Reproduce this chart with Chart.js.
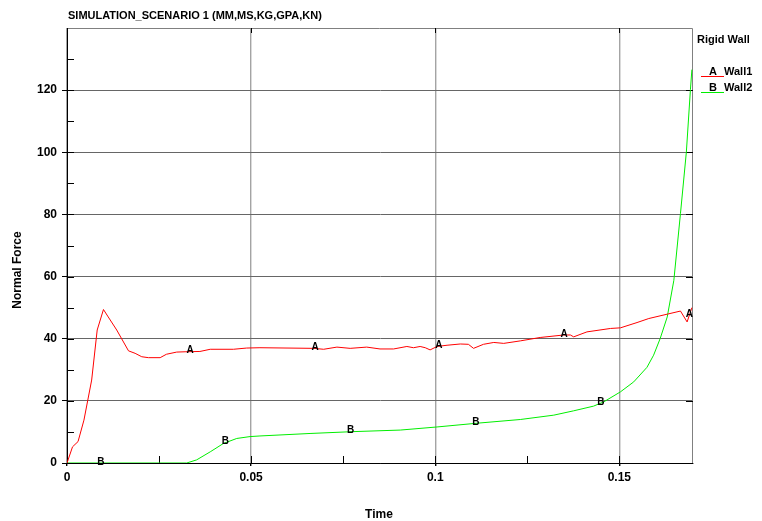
<!DOCTYPE html>
<html>
<head>
<meta charset="utf-8">
<script src="https://cdn.jsdelivr.net/npm/chart.js@4.4.1/dist/chart.umd.min.js"></script>
<style>
  html, body { margin: 0; padding: 0; background: #fff; }
  #wrap { width: 762px; height: 521px; }
</style>
</head>
<body>
<div id="wrap"><canvas id="chart" width="762" height="521"></canvas></div>
<script>
// rigid wall normal force vs time
var titleText = 'SIMULATION_SCENARIO 1 (MM,MS,KG,GPA,KN)';
var xTitle = 'Time';
var yTitle = 'Normal Force';
var legendTitle = 'Rigid Wall';
var seriesNames = ['Wall1', 'Wall2'];
var seriesMarks = ['A', 'B'];
var seriesColours = ['#ff0000', '#00ee00'];

var xTicks = [0, 0.05, 0.1, 0.15];
var xMinorTicks = [0.025, 0.075, 0.125];
var yTicks = [0, 20, 40, 60, 80, 100, 120];
var yMinorTicks = [10, 30, 50, 70, 90, 110, 130];

var wall1Time = [0, 0.0015, 0.003, 0.0046, 0.0067, 0.0082, 0.0099, 0.0112, 0.0135, 0.0167, 0.0185,
    0.0203, 0.0221, 0.0253, 0.027, 0.0298, 0.0323, 0.0361, 0.0389, 0.0452, 0.0488, 0.0524, 0.067,
    0.0697, 0.0733, 0.0769, 0.0814, 0.085, 0.0887, 0.0923, 0.0941, 0.0959, 0.0973, 0.0986, 0.1005,
    0.1032, 0.1068, 0.109, 0.1104, 0.1131, 0.1159, 0.1186, 0.1231, 0.1285, 0.1349, 0.1367, 0.1376,
    0.1412, 0.1476, 0.1503, 0.1548, 0.158, 0.163, 0.1666, 0.1684, 0.1697];
var wall1Force = [0, 5.2, 6.9, 13.8, 26.7, 42.8, 49.4, 47, 42.8, 36.1, 35.3,
    34.2, 33.9, 33.9, 35, 35.7, 35.8, 35.9, 36.6, 36.6, 37, 37.1, 36.9,
    36.6, 37.3, 36.9, 37.3, 36.7, 36.7, 37.5, 37.1, 37.5, 37.1, 36.4, 37.5,
    37.9, 38.3, 38.2, 36.9, 38.2, 38.8, 38.5, 39.3, 40.4, 41.2, 41.2, 40.6,
    42.2, 43.3, 43.5, 45.2, 46.5, 47.9, 48.9, 45.4, 50];

var wall2Time = [0, 0.0325, 0.0352, 0.0389, 0.0425, 0.0461, 0.0497, 0.0524, 0.066, 0.0778, 0.0905,
    0.1005, 0.1113, 0.1231, 0.1322, 0.1376, 0.143, 0.1458, 0.1503, 0.1539, 0.1575, 0.1593, 0.1611,
    0.163, 0.1648, 0.1666, 0.1682, 0.1693, 0.1697];
var wall2Force = [0, 0, 1, 3.6, 6.3, 7.9, 8.5, 8.7, 9.5, 10.1, 10.6,
    11.6, 12.8, 14, 15.4, 16.8, 18.3, 19.7, 22.9, 26.1, 30.8, 34.7, 40.1,
    47, 58.8, 80.3, 100.1, 120.2, 126.6];

// times where the curve letters are written on the lines
var wall1MarkTimes = [0.0334, 0.0674, 0.101, 0.135, 0.169];
var wall2MarkTimes = [0.0092, 0.043, 0.077, 0.111, 0.145];

function toPoints(ts, vs) {
    return ts.map(function (t, i) { return {x: t, y: vs[i]}; });
}

function valueAt(ts, vs, t) {
    for (var i = 1; i < ts.length; i++) {
        if (t <= ts[i]) {
            var f = (t - ts[i - 1]) / (ts[i] - ts[i - 1]);
            return vs[i - 1] + f * (vs[i] - vs[i - 1]);
        }
    }
    return vs[vs.length - 1];
}

var FONT = '"Liberation Sans", Arial, sans-serif';

var framePlugin = {
    id: 'frame',
    beforeDatasetsDraw: function (chart) {
        var a = chart.chartArea, ctx = chart.ctx;
        var xs = chart.scales.x, ys = chart.scales.y;
        ctx.save();
        ctx.strokeStyle = '#808080';
        ctx.lineWidth = 1;
        ctx.beginPath();
        ctx.moveTo(a.left, a.top + 0.5);
        ctx.lineTo(a.right - 0.5, a.top + 0.5);
        ctx.lineTo(a.right - 0.5, a.bottom);
        ctx.stroke();
        // inward tick marks
        ctx.strokeStyle = '#000';
        ctx.beginPath();
        xTicks.concat(xMinorTicks).forEach(function (v) {
            var px = Math.round(xs.getPixelForValue(v)) + 0.5;
            ctx.moveTo(px, a.bottom);
            ctx.lineTo(px, a.bottom - 7);
        });
        xTicks.forEach(function (v) {
            var px = Math.round(xs.getPixelForValue(v)) + 0.5;
            ctx.moveTo(px, a.top);
            ctx.lineTo(px, a.top + 5);
        });
        yTicks.concat(yMinorTicks).forEach(function (v) {
            var py = Math.round(ys.getPixelForValue(v)) + 0.5;
            ctx.moveTo(a.left, py);
            ctx.lineTo(a.left + 7, py);
        });
        yTicks.forEach(function (v) {
            var py = Math.round(ys.getPixelForValue(v)) + 0.5;
            ctx.moveTo(a.right, py);
            ctx.lineTo(a.right - 7, py);
        });
        ctx.stroke();
        ctx.restore();
    },
    afterDraw: function (chart) {
        var a = chart.chartArea, ctx = chart.ctx;
        var xs = chart.scales.x, ys = chart.scales.y;
        ctx.save();
        // title
        ctx.fillStyle = '#000';
        ctx.font = 'bold 11px ' + FONT;
        ctx.textAlign = 'left';
        ctx.textBaseline = 'middle';
        ctx.fillText(titleText, a.left + 1, 16);

        // axis titles
        ctx.font = 'bold 12px ' + FONT;
        ctx.textAlign = 'center';
        ctx.fillText(xTitle, 379, 515);
        ctx.save();
        ctx.translate(18, 270);
        ctx.rotate(-Math.PI / 2);
        ctx.fillText(yTitle, 0, 0);
        ctx.restore();

        // letters on the curves
        ctx.font = 'bold 10px ' + FONT;
        ctx.textAlign = 'center';
        var marks = [[wall1MarkTimes, wall1Time, wall1Force], [wall2MarkTimes, wall2Time, wall2Force]];
        marks.forEach(function (m, k) {
            m[0].forEach(function (t) {
                var v = valueAt(m[1], m[2], t);
                ctx.fillText(seriesMarks[k], xs.getPixelForValue(t), ys.getPixelForValue(v) - 1);
            });
        });

        // legend on the right
        var lx = a.right + 4;
        ctx.font = 'bold 11px ' + FONT;
        ctx.textAlign = 'left';
        ctx.fillText(legendTitle, lx, 40);
        seriesNames.forEach(function (name, k) {
            var y = 72 + k * 16;
            ctx.strokeStyle = seriesColours[k];
            ctx.lineWidth = 1;
            ctx.beginPath();
            ctx.moveTo(lx + 4, y + 4.5);
            ctx.lineTo(lx + 27, y + 4.5);
            ctx.stroke();
            ctx.fillStyle = '#000';
            ctx.textAlign = 'center';
            ctx.fillText(seriesMarks[k], lx + 16, y);
            ctx.textAlign = 'left';
            ctx.fillText(name, lx + 27, y);
        });
        ctx.restore();
    }
};

var ctx = document.getElementById('chart').getContext('2d');
new Chart(ctx, {
    type: 'line',
    data: {
        datasets: [{
            label: seriesNames[0],
            data: toPoints(wall1Time, wall1Force),
            borderColor: seriesColours[0],
            borderWidth: 1,
            pointRadius: 0,
            tension: 0
        }, {
            label: seriesNames[1],
            data: toPoints(wall2Time, wall2Force),
            borderColor: seriesColours[1],
            borderWidth: 1,
            pointRadius: 0,
            tension: 0
        }]
    },
    options: {
        responsive: false,
        animation: false,
        layout: { padding: { left: 4, top: 28, right: 69, bottom: 0 } },
        plugins: {
            legend: { display: false },
            tooltip: { enabled: false }
        },
        scales: {
            x: {
                type: 'linear',
                min: 0,
                max: 0.17,
                afterBuildTicks: function (scale) {
                    scale.ticks = xTicks.map(function (v) { return {value: v}; });
                },
                afterFit: function (scale) { scale.height = 58; },
                ticks: {
                    color: '#000',
                    padding: 4,
                    maxRotation: 0,
                    font: { family: FONT, size: 12, weight: 'bold' },
                    callback: function (v) { return String(v); }
                },
                grid: { color: '#a4a4a4', lineWidth: 1.4, tickLength: 3, tickColor: '#000' },
                border: { color: '#000', width: 1 }
            },
            y: {
                min: 0,
                max: 140,
                afterBuildTicks: function (scale) {
                    scale.ticks = yTicks.map(function (v) { return {value: v}; });
                },
                afterFit: function (scale) { scale.width = 63; },
                ticks: {
                    color: '#000',
                    padding: 5,
                    font: { family: FONT, size: 12, weight: 'bold' }
                },
                grid: { color: '#666666', lineWidth: 1, tickLength: 5, tickColor: '#000' },
                border: { color: '#000', width: 1 }
            }
        }
    },
    plugins: [framePlugin]
});
</script>
</body>
</html>
